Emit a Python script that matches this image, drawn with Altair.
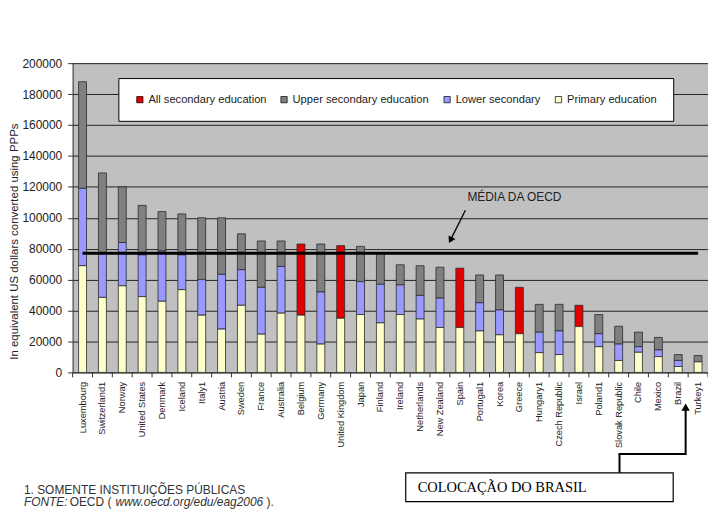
import altair as alt
import pandas as pd

countries = ["Luxembourg", "Switzerland1", "Norway", "United States", "Denmark", "Iceland",
             "Italy1", "Austria", "Sweden", "France", "Australia", "Belgium", "Germany",
             "United Kingdom", "Japan", "Finland", "Ireland", "Netherlands", "New Zealand",
             "Spain", "Portugal1", "Korea", "Greece", "Hungary1", "Czech Republic", "Israel",
             "Poland1", "Slovak Republic", "Chile", "Mexico", "Brazil", "Turkey1"]

primary = [69000, 48500, 56000, 49000, 46000, 53500, 37000, 28000, 43400, 24700, 38300,
           37000, 18300, 35000, 37400, 32000, 37400, 34500, 29000, 29000, 26800, 24300,
           25000, 12800, 11500, 29600, 16600, 7700, 13000, 10200, 3800, 6800]
lower = [50000, 28500, 28000, 27000, 32500, 22500, 23000, 35400, 23000, 30300, 30200,
         0, 33700, 0, 21300, 25000, 19200, 15300, 19000, 0, 18200, 16100,
         0, 13200, 15300, 0, 8400, 10600, 3600, 4300, 3900, 0]
upper = [69000, 52000, 36000, 32000, 25500, 26500, 40000, 36600, 23200, 30000, 16500,
         0, 31000, 0, 22800, 20000, 13000, 19200, 20000, 0, 18000, 22600,
         0, 18000, 17200, 0, 12400, 11500, 9400, 8100, 3800, 4100]
all_secondary = [0, 0, 0, 0, 0, 0, 0, 0, 0, 0, 0,
                 46000, 0, 47000, 0, 0, 0, 0, 0, 38400, 0, 0,
                 30000, 0, 0, 13800, 0, 0, 0, 0, 0, 0]

series_names = ["All secondary education", "Upper secondary education",
                "Lower secondary", "Primary education"]
series_colors = ["#E00000", "#808080", "#9999FF", "#FFFFCC"]
stack_order = {"Primary education": 0, "Lower secondary": 1,
               "Upper secondary education": 2, "All secondary education": 3}

oecd_mean = 77000
y_ticks = [0, 20000, 40000, 60000, 80000, 100000, 120000, 140000, 160000, 180000, 200000]

y_title = "In equivalent US dollars converted using PPPs"
mean_label = "MÉDIA DA OECD"
brazil_label = "COLOCAÇÃO DO BRASIL"
note_line1 = "1. SOMENTE INSTITUIÇÕES  PÚBLICAS"
note_parts = [("FONTE:", "italic"), ("OECD (", "normal"),
              ("www.oecd.org/edu/eag2006", "italic"), (").", "normal")]

rows = []
for i, c in enumerate(countries):
    for name, vals in zip(series_names, [all_secondary, upper, lower, primary]):
        v = vals[i]
        if v > 0:
            rows.append({"country": c, "series": name, "value": v, "ord": stack_order[name]})
df = pd.DataFrame(rows)

W, H = 639, 311
xscale = alt.Scale(domain=countries, paddingInner=0.6, paddingOuter=0.3)
yscale = alt.Scale(domain=[0, 200000], nice=False)

xaxis = alt.Axis(title=None, labelAngle=270, labelAlign="right", labelBaseline="middle",
                 labelFontSize=9.3, labelPadding=4, tickSize=5, tickOpacity=0,
                 domainColor="#333", labelColor="#222", labelFont="Liberation Sans",
                 labelOverlap=False, grid=False)
yaxis = alt.Axis(values=y_ticks, format="d", title=y_title, labelFontSize=12,
                 labelFont="Liberation Sans", labelColor="#222", labelPadding=6,
                 labelOverlap=False, tickSize=5, tickColor="#333", domainColor="#333",
                 grid=True, gridColor="#222", gridWidth=1, titleFontSize=11.5,
                 titleFont="Liberation Sans", titleFontWeight="normal",
                 titleColor="#222", titleAngle=270, titleX=-58, titleY=179,
                 titleAlign="center", titleBaseline="middle")

bars = alt.Chart(df).mark_bar(stroke="#2a2a2a", strokeWidth=0.8).encode(
    x=alt.X("country:N", scale=xscale, sort=countries, axis=xaxis),
    y=alt.Y("value:Q", stack="zero", scale=yscale, axis=yaxis),
    color=alt.Color("series:N", scale=alt.Scale(domain=series_names, range=series_colors),
                    legend=alt.Legend(orient="none", legendX=46, legendY=15, direction="horizontal",
                                      title=None, fillColor="white", strokeColor="black",
                                      padding=16, columnPadding=12, symbolType="square",
                                      symbolSize=40, symbolStrokeColor="black",
                                      symbolStrokeWidth=0.7, symbolOpacity=1,
                                      labelFontSize=11.2, labelFont="Liberation Sans",
                                      labelColor="#222", labelOffset=3)),
    order=alt.Order("ord:Q", sort="ascending"),
)

tick_df = pd.DataFrame({"country": countries})
xticks = alt.Chart(tick_df).mark_rule(color="#333", xOffset=-10).encode(
    x=alt.X("country:N", scale=xscale, sort=countries, axis=xaxis),
    y=alt.value(H), y2=alt.value(H + 5))
last_tick = alt.Chart(pd.DataFrame({"country": [countries[-1]]})).mark_rule(color="#333", xOffset=10).encode(
    x=alt.X("country:N", scale=xscale, sort=countries, axis=xaxis),
    y=alt.value(H), y2=alt.value(H + 5))

mean_df = pd.DataFrame({"a": [countries[0]], "b": [countries[-1]], "v": [oecd_mean]})
mean_line = alt.Chart(mean_df).mark_rule(color="black", strokeWidth=3).encode(
    x=alt.X("a:N", scale=xscale, sort=countries, axis=xaxis), x2="b:N",
    y=alt.Y("v:Q", scale=yscale, axis=yaxis))

one = pd.DataFrame({"t": [""]})

mean_text = alt.Chart(pd.DataFrame({"t": [mean_label]})).mark_text(
    align="left", baseline="middle", fontSize=12, font="Liberation Sans", color="#222").encode(
    x=alt.value(397), y=alt.value(135), text="t:N")
mean_arrow = alt.Chart(one).mark_rule(color="black", strokeWidth=1.3).encode(
    x=alt.value(395), y=alt.value(148), x2=alt.value(380.5), y2=alt.value(177))
mean_head = alt.Chart(one).mark_point(shape="triangle-down", filled=True, size=60, angle=27,
                                      color="black", opacity=1).encode(
    x=alt.value(380), y=alt.value(178))

box = alt.Chart(one).mark_rect(fill="white", stroke="black", strokeWidth=1.2).encode(
    x=alt.value(335), x2=alt.value(604), y=alt.value(412), y2=alt.value(441))
box_text = alt.Chart(pd.DataFrame({"t": [brazil_label]})).mark_text(
    align="left", baseline="middle", fontSize=14.5, font="Liberation Serif", color="black").encode(
    x=alt.value(347), y=alt.value(427), text="t:N")
seg1 = alt.Chart(one).mark_rule(color="black", strokeWidth=2).encode(
    x=alt.value(550), y=alt.value(412), y2=alt.value(393))
seg2 = alt.Chart(one).mark_rule(color="black", strokeWidth=2).encode(
    x=alt.value(549), x2=alt.value(617), y=alt.value(393))
seg3 = alt.Chart(one).mark_rule(color="black", strokeWidth=2).encode(
    x=alt.value(616.5), y=alt.value(394), y2=alt.value(348))
head2 = alt.Chart(one).mark_point(shape="triangle-up", filled=True, size=70,
                                  color="black", opacity=1).encode(
    x=alt.value(616.5), y=alt.value(346))

note1 = alt.Chart(pd.DataFrame({"t": [note_line1]})).mark_text(
    align="left", baseline="middle", fontSize=12, font="Liberation Sans", color="#333").encode(
    x=alt.value(-49), y=alt.value(429), text="t:N")
note_x = [-49, -3, 43, 195]
note_layers = []
for (txt, style), xx in zip(note_parts, note_x):
    note_layers.append(alt.Chart(pd.DataFrame({"t": [txt]})).mark_text(
        align="left", baseline="middle", fontSize=12, font="Liberation Sans", color="#333",
        fontStyle=style).encode(x=alt.value(xx), y=alt.value(441), text="t:N"))

chart = alt.layer(bars, mean_line, xticks, last_tick, mean_arrow, mean_head, mean_text,
                  box, box_text, seg1, seg2, seg3, head2, note1, *note_layers).properties(
    width=W, height=H,
    autosize=alt.AutoSizeParams(type="none"),
    padding={"left": 65, "top": 54, "right": 0, "bottom": 149},
    background="white",
).configure_view(fill="#C0C0C0", stroke=None)

chart.save("out.html", embed_options={"renderer": "svg", "actions": False})
